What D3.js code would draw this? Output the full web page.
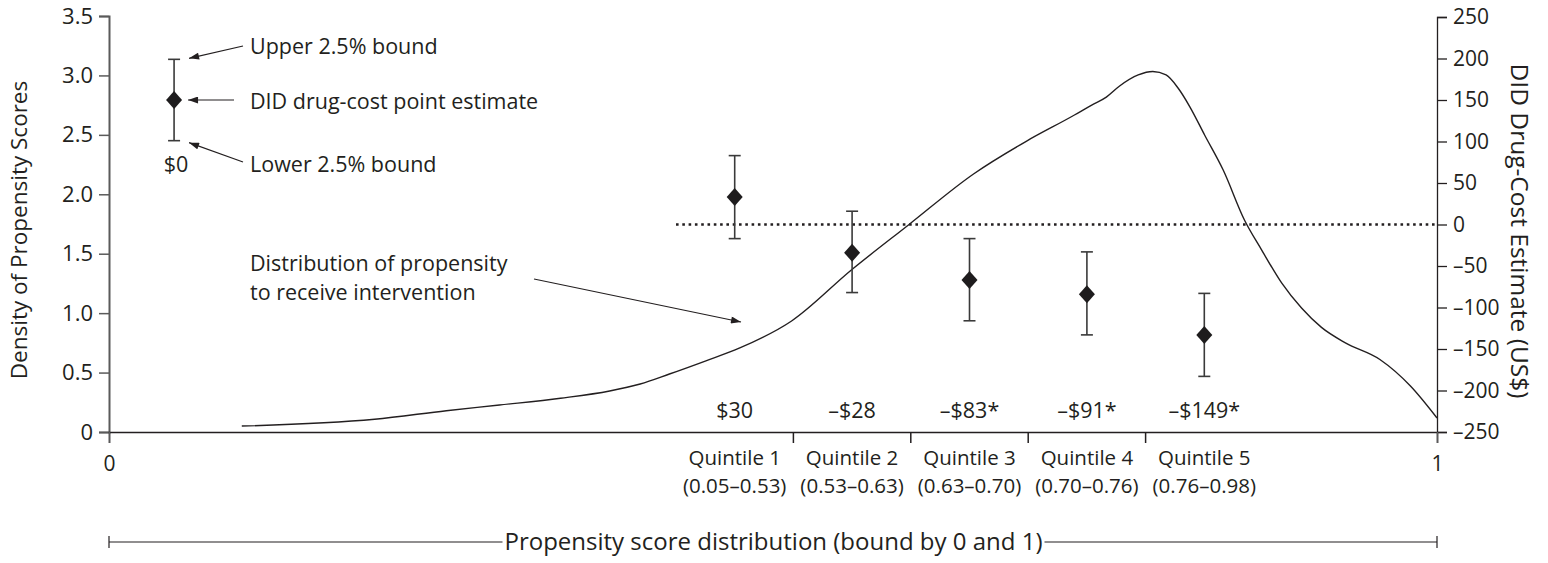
<!DOCTYPE html>
<html>
<head>
<meta charset="utf-8">
<script src="https://cdn.jsdelivr.net/npm/d3@7"></script>
<style>
  body { margin: 0; background: #fff; }
  svg { display: block; font-family: "Open Sans", sans-serif; }
  text { fill: #231f20; }
</style>
</head>
<body>
<svg id="chart" width="1548" height="563"></svg>
<script>
// propensity density curve (x = propensity score, y = density)
const densityX = [0.100, 0.200, 0.254, 0.294, 0.340, 0.377, 0.400, 0.422, 0.449, 0.475, 0.514, 0.559, 0.602, 0.651, 0.691, 0.727, 0.740, 0.751, 0.761, 0.775, 0.786, 0.796, 0.805, 0.814, 0.825, 0.839, 0.855, 0.868, 0.883, 0.898, 0.913, 0.931, 0.957, 0.980, 1.000];
const densityY = [0.050, 0.107, 0.179, 0.227, 0.284, 0.345, 0.404, 0.488, 0.597, 0.707, 0.934, 1.363, 1.742, 2.171, 2.448, 2.667, 2.751, 2.818, 2.911, 3.004, 3.033, 3.004, 2.894, 2.734, 2.499, 2.204, 1.784, 1.531, 1.254, 1.043, 0.880, 0.750, 0.610, 0.387, 0.118];

// DID drug-cost estimates per quintile
const quintiles = ["Quintile 1", "Quintile 2", "Quintile 3", "Quintile 4", "Quintile 5"];
const quintileRanges = ["(0.05–0.53)", "(0.53–0.63)", "(0.63–0.70)", "(0.70–0.76)", "(0.76–0.98)"];
const estimateLabels = ["$30", "–$28", "–$83*", "–$91*", "–$149*"];
const pointEst = [33, -34, -67, -84, -133];
const lowerBound = [-17, -82, -116, -133, -183];
const upperBound = [83, 16, -17, -33, -83];

// legend example
const legendPoint = 150, legendLower = 101, legendUpper = 199;
const legendValueLabel = "$0";

const leftTicks = [0, 0.5, 1.0, 1.5, 2.0, 2.5, 3.0, 3.5];
const rightTicks = [-250, -200, -150, -100, -50, 0, 50, 100, 150, 200, 250];

const svg = d3.select("#chart");
const fs = 21.5;      // labels
const fsTick = 21;
const fsTitle = 24.5;

const x = d3.scaleLinear().domain([0, 1]).range([109, 1437]);
const yL = d3.scaleLinear().domain([0, 3.5]).range([432, 16]);
const yR = d3.scaleLinear().domain([-250, 250]).range([432, 17]);
const band = d3.scaleBand().domain(quintiles).range([676, 1263]);

// arrow marker
svg.append("defs").append("marker")
    .attr("id", "arrow")
    .attr("viewBox", "0 0 10 7")
    .attr("refX", 10).attr("refY", 3.5)
    .attr("markerUnits", "userSpaceOnUse")
    .attr("markerWidth", 11).attr("markerHeight", 7)
    .attr("orient", "auto")
  .append("path")
    .attr("d", "M0,0L10,3.5L0,7z")
    .attr("fill", "#231f20");

// axes
const gL = svg.append("g")
    .attr("transform", `translate(${x(0)},0)`)
    .call(d3.axisLeft(yL).tickValues(leftTicks).tickSize(10).tickPadding(6)
        .tickFormat(d => d === 0 ? "0" : d.toFixed(1)));
gL.select(".domain").attr("stroke", "#5a5a5a").attr("stroke-width", 2);
gL.selectAll(".tick line").attr("stroke", "#5a5a5a").attr("stroke-width", 1.5);

const gR = svg.append("g")
    .attr("transform", `translate(${x(1)},0)`)
    .call(d3.axisRight(yR).tickValues(rightTicks).tickSize(10).tickPadding(6)
        .tickFormat(d => d < 0 ? "–" + Math.abs(d) : String(d)));
gR.select(".domain").attr("stroke", "#231f20").attr("stroke-width", 1.3);
gR.selectAll(".tick line").attr("stroke", "#231f20").attr("stroke-width", 1.3);

const gB = svg.append("g")
    .attr("transform", `translate(0,${yL(0)})`)
    .call(d3.axisBottom(x).tickValues([0, 1]).tickSize(11).tickPadding(13)
        .tickFormat(d3.format("d")));
gB.select(".domain").attr("stroke", "#231f20").attr("stroke-width", 1.5);
gB.selectAll(".tick line").attr("stroke", "#5a5a5a").attr("stroke-width", 1.5);

svg.selectAll(".tick text").attr("font-size", fsTick).attr("fill", "#231f20").attr("font-family", "Open Sans, sans-serif");
gL.selectAll(".tick text").attr("font-size", 22);

// quintile boundary ticks
svg.append("g").selectAll("line")
  .data(quintiles.slice(1))
  .join("line")
    .attr("x1", d => band(d)).attr("x2", d => band(d))
    .attr("y1", yL(0)).attr("y2", yL(0) + 11)
    .attr("stroke", "#231f20").attr("stroke-width", 1.5);

// quintile labels (two lines each)
const qLab = svg.append("g").attr("text-anchor", "middle");
const qText = qLab.selectAll("text.q")
  .data(quintiles)
  .join("text").attr("class", "q")
    .attr("font-size", 20.5)
    .attr("y", 465);
qText.append("tspan")
    .attr("x", d => band(d) + band.bandwidth() / 2)
    .text(d => d);
qText.append("tspan")
    .attr("x", d => band(d) + band.bandwidth() / 2)
    .attr("dy", 28)
    .text((d, i) => quintileRanges[i]);
qLab.selectAll("text.e")
  .data(estimateLabels)
  .join("text").attr("class", "e")
    .attr("font-size", fs)
    .attr("x", (d, i) => band(quintiles[i]) + band.bandwidth() / 2)
    .attr("y", 418)
    .text(d => d);

// density curve
const line = d3.line()
    .x(d => x(d[0]))
    .y(d => yL(d[1]))
    .curve(d3.curveMonotoneX);
svg.append("path")
    .datum(densityX.map((v, i) => [v, densityY[i]]))
    .attr("d", line)
    .attr("fill", "none")
    .attr("stroke", "#231f20")
    .attr("stroke-width", 1.4);

// zero reference line
svg.append("line")
    .attr("x1", band.range()[0]).attr("x2", x(1))
    .attr("y1", yR(0)).attr("y2", yR(0))
    .attr("stroke", "#231f20")
    .attr("stroke-width", 2.6)
    .attr("stroke-dasharray", "2.6,3.7");

// error bars + diamonds
const diamond = "M0,-9L8,0L0,9L-8,0Z";
function errorBar(g, cx, lo, hi, pt) {
    g.append("line").attr("x1", cx).attr("x2", cx).attr("y1", yR(lo)).attr("y2", yR(hi))
        .attr("stroke", "#3a3a3a").attr("stroke-width", 1.6);
    [lo, hi].forEach(v => {
        g.append("line").attr("x1", cx - 6).attr("x2", cx + 6).attr("y1", yR(v)).attr("y2", yR(v))
            .attr("stroke", "#3a3a3a").attr("stroke-width", 1.6);
    });
    g.append("path").attr("d", diamond)
        .attr("transform", `translate(${cx},${yR(pt)})`)
        .attr("fill", "#1e1c1d");
}
const gE = svg.append("g");
quintiles.forEach((q, i) => {
    errorBar(gE, band(q) + band.bandwidth() / 2, lowerBound[i], upperBound[i], pointEst[i]);
});

// legend example (top left)
const legX = x(0.049);
const gLeg = svg.append("g");
errorBar(gLeg, legX, legendLower, legendUpper, legendPoint);
gLeg.append("text").attr("x", legX + 2).attr("y", 172)
    .attr("text-anchor", "middle").attr("font-size", fs).text(legendValueLabel);

const legendNotes = [
    { text: "Upper 2.5% bound", from: [243, 46], to: [legX + 15, yR(legendUpper) - 1], ty: 54 },
    { text: "DID drug-cost point estimate", from: [234, yR(legendPoint)], to: [legX + 14, yR(legendPoint)], ty: 108.5 },
    { text: "Lower 2.5% bound", from: [243, 162], to: [legX + 15, yR(legendLower) + 2], ty: 172 }
];
legendNotes.forEach(n => {
    gLeg.append("line")
        .attr("x1", n.from[0]).attr("y1", n.from[1])
        .attr("x2", n.to[0]).attr("y2", n.to[1])
        .attr("stroke", "#231f20").attr("stroke-width", 1.2)
        .attr("marker-end", "url(#arrow)");
    gLeg.append("text").attr("x", 250).attr("y", n.ty)
        .attr("font-size", fs).text(n.text);
});

// curve annotation
const gAnn = svg.append("g").attr("font-size", fs);
const annText = gAnn.append("text").attr("y", 271);
annText.append("tspan").attr("x", 250).text("Distribution of propensity");
annText.append("tspan").attr("x", 250).attr("dy", 29).text("to receive intervention");
gAnn.append("line")
    .attr("x1", 534).attr("y1", 279)
    .attr("x2", 741).attr("y2", 322)
    .attr("stroke", "#231f20").attr("stroke-width", 1.2)
    .attr("marker-end", "url(#arrow)");

// axis titles
svg.append("text")
    .attr("transform", `translate(27,230) rotate(-90)`)
    .attr("text-anchor", "middle").attr("font-size", 22.5)
    .text("Density of Propensity Scores");
svg.append("text")
    .attr("transform", `translate(1511,231) rotate(90)`)
    .attr("text-anchor", "middle").attr("font-size", fsTitle)
    .text("DID Drug-Cost Estimate (US$)");

// bottom bracket
const bY = 542, bX = 773.5;
const bLabel = svg.append("text")
    .attr("x", bX).attr("y", bY + 8)
    .attr("text-anchor", "middle").attr("font-size", 24)
    .text("Propensity score distribution (bound by 0 and 1)");
const bw = bLabel.node().getComputedTextLength();
const gBr = svg.append("g").attr("stroke", "#231f20").attr("stroke-width", 1.2);
gBr.append("line").attr("x1", x(0)).attr("x2", bX - bw / 2 - 2).attr("y1", bY).attr("y2", bY);
gBr.append("line").attr("x1", bX + bw / 2 + 2).attr("x2", x(1)).attr("y1", bY).attr("y2", bY);
[x(0), x(1)].forEach(px => {
    gBr.append("line").attr("x1", px).attr("x2", px).attr("y1", bY - 6).attr("y2", bY + 6);
});
</script>
</body>
</html>
